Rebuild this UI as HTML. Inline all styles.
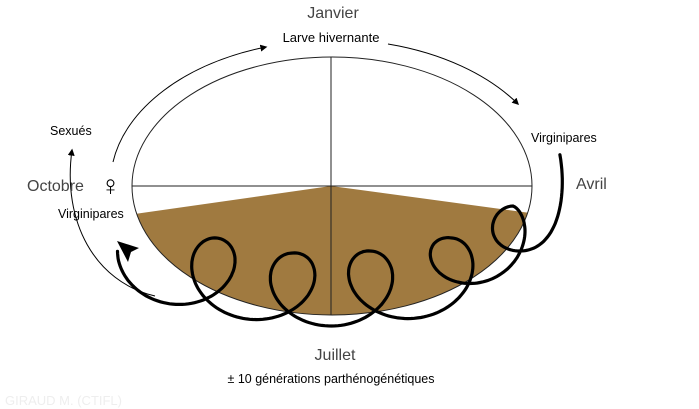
<!DOCTYPE html>
<html><head><meta charset="utf-8"><style>
html,body{margin:0;padding:0;background:#fff}
svg{display:block}
text{font-family:"Liberation Sans",sans-serif}
</style></head><body>
<svg id="s" width="699" height="409" viewBox="0 0 699 409" xmlns="http://www.w3.org/2000/svg">
<defs>
<clipPath id="ec"><ellipse cx="332" cy="186" rx="200" ry="129"/></clipPath>
<marker id="ah" viewBox="0 0 10 10" refX="8" refY="5" markerWidth="7" markerHeight="7" orient="auto"><path d="M0,0 L10,5 L0,10 z" fill="#000"/></marker>
</defs>
<polygon points="100,219 331,186 560,217 560,330 100,330" fill="#a07a40" clip-path="url(#ec)"/>
<ellipse cx="332" cy="186" rx="200" ry="129" fill="none" stroke="#222" stroke-width="1"/>
<line x1="331" y1="57" x2="331" y2="315" stroke="#222" stroke-width="1"/>
<line x1="132" y1="186" x2="532" y2="186" stroke="#222" stroke-width="1"/>
<path d="M113,162 A222 143 0 0 1 266,47" fill="none" stroke="#000" stroke-width="1" marker-end="url(#ah)"/>
<path d="M388,44 A222 143 0 0 1 518,104" fill="none" stroke="#000" stroke-width="1" marker-end="url(#ah)"/>
<path d="M155,296 C95,282 62,222 72,150" fill="none" stroke="#000" stroke-width="1" marker-end="url(#ah)"/>
<path id="tro" d="" fill="none" stroke="#000" stroke-width="3.2" stroke-linecap="round"/>
<path d="M117,241 L139,248 L131,252 L128,262 z" fill="#000"/>
<text x="333" y="18" font-size="16" fill="#444" text-anchor="middle">Janvier</text>
<text x="331" y="42" font-size="13" fill="#000" text-anchor="middle">Larve hivernante</text>
<text x="50" y="135" font-size="12.5" fill="#000">Sexués</text>
<text x="27" y="191" font-size="16" fill="#444">Octobre</text>
<text x="100" y="195" font-size="28" fill="#000">♀</text>
<text x="58" y="218" font-size="12.5" fill="#000">Virginipares</text>
<text x="531" y="142" font-size="12.5" fill="#000">Virginipares</text>
<text x="576" y="189" font-size="16" fill="#444">Avril</text>
<text x="335" y="360" font-size="16" fill="#444" text-anchor="middle">Juillet</text>
<text x="331" y="383" font-size="12.5" fill="#000" text-anchor="middle">± 10 générations parthénogénétiques</text>
<text x="5" y="405" font-size="13" fill="#eee">GIRAUD M. (CTIFL)</text>
</svg>
<script>
(function(){
var K=[[-0.35,530,190,37,60],[0,520,229,26,22],[0.5,513,229,22,23],[1.5,452,275,39,37],[2.5,370,288,40,37],[3.5,293,290,40,37],[4.5,213,275,39,37],[5.35,150,262,38,37]];
function itp(s){for(var i=0;i<K.length-1;i++){if(s<=K[i+1][0]||i==K.length-2){var a=K[i],b=K[i+1],t=(s-a[0])/(b[0]-a[0]);var r=[];for(var j=1;j<5;j++)r.push(a[j]+(b[j]-a[j])*t);return r;}}}
var d="";
for(var s=-0.35;s<=5.3;s+=0.01){var c=itp(s);var x=c[0]-c[2]*Math.sin(2*Math.PI*s),y=c[1]+c[3]*Math.cos(2*Math.PI*s);d+=(d?" L":"M")+x.toFixed(1)+","+y.toFixed(1);}
document.getElementById("tro").setAttribute("d",d);
})();
</script>
</body></html>
